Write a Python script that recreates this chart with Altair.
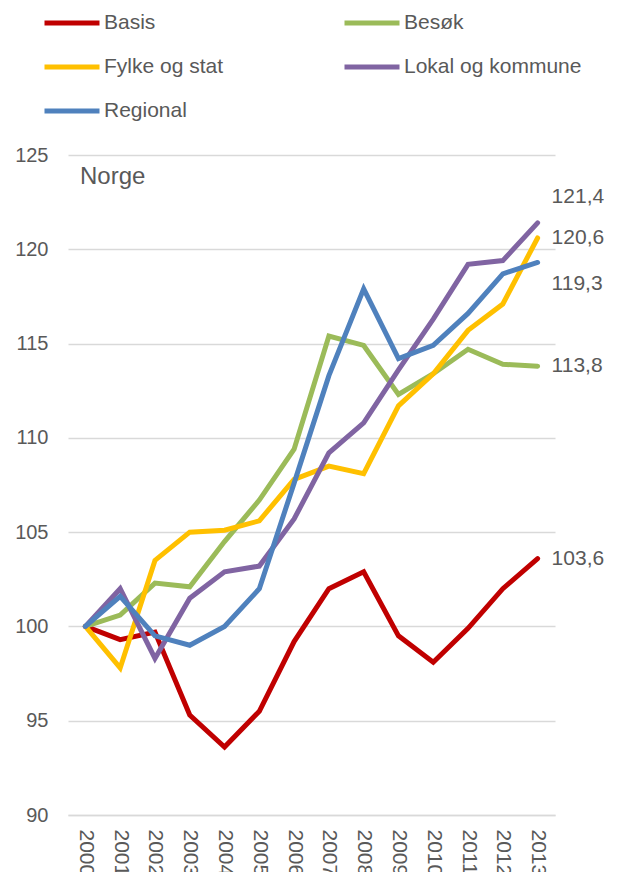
import altair as alt
import pandas as pd

years = [str(y) for y in range(2000, 2014)]
series_names = ["Basis", "Besøk", "Fylke og stat", "Lokal og kommune", "Regional"]
basis = [100.0, 99.3, 99.7, 95.3, 93.6, 95.5, 99.2, 102.0, 102.9, 99.5, 98.1, 99.9, 102.0, 103.6]
besok = [100.0, 100.6, 102.3, 102.1, 104.5, 106.7, 109.4, 115.4, 114.9, 112.3, 113.4, 114.7, 113.9, 113.8]
fylke = [100.0, 97.8, 103.5, 105.0, 105.1, 105.6, 107.8, 108.5, 108.1, 111.7, 113.4, 115.7, 117.1, 120.6]
lokal = [100.0, 102.0, 98.3, 101.5, 102.9, 103.2, 105.7, 109.2, 110.8, 113.6, 116.3, 119.2, 119.4, 121.4]
regional = [100.0, 101.6, 99.5, 99.0, 100.0, 102.0, 107.6, 113.3, 117.9, 114.2, 114.9, 116.6, 118.7, 119.3]
colors = ["#C00000", "#9BBB59", "#FFC000", "#8064A2", "#4F81BD"]

values = [basis, besok, fylke, lokal, regional]
rows = []
for name, vals in zip(series_names, values):
    for yr, v in zip(years, vals):
        rows.append({"Serie": name, "År": yr, "Verdi": v})
df = pd.DataFrame(rows)

last = pd.DataFrame({
    "Serie": series_names,
    "År": [years[-1]] * len(series_names),
    "Verdi": [v[-1] for v in values],
})
last["Tekst"] = last["Verdi"].map(lambda v: f"{v:.1f}".replace(".", ","))

FONT = "Liberation Sans"
TXT = "#595959"

x = alt.X("År:O", title=None,
          scale=alt.Scale(paddingOuter=0.5),
          axis=alt.Axis(labelAngle=90, labelFontSize=21, labelColor=TXT, labelFont=FONT,
                        ticks=False, domainColor="#d9d9d9", domainWidth=1.5,
                        labelPadding=14, grid=False))
y = alt.Y("Verdi:Q", title=None,
          scale=alt.Scale(domain=[90, 125], nice=False, zero=False),
          axis=alt.Axis(values=[90, 95, 100, 105, 110, 115, 120, 125], labelFontSize=20,
                        labelColor=TXT, labelFont=FONT, ticks=False, domain=False,
                        gridColor="#d9d9d9", gridWidth=1.5, labelPadding=20))

lines = alt.Chart(df).mark_line(strokeWidth=5, strokeCap="round").encode(
    x=x, y=y,
    color=alt.Color("Serie:N",
                    scale=alt.Scale(domain=series_names, range=colors),
                    sort=series_names,
                    legend=alt.Legend(title=None, orient="none", legendX=-26, legendY=-162,
                                      direction="horizontal",
                                      columns=2, symbolType="stroke", symbolSize=3025,
                                      symbolStrokeWidth=5, labelFontSize=21, labelFont=FONT,
                                      labelColor=TXT, labelOffset=2, columnPadding=110,
                                      labelLimit=400,
                                      rowPadding=4, padding=0)),
    order=alt.Order("Serie:N"),
)

def end_labels(names, dy):
    return alt.Chart(last).transform_filter(
        alt.FieldOneOfPredicate(field="Serie", oneOf=names)
    ).mark_text(align="left", baseline="middle", dx=14, dy=dy, fontSize=21,
                font=FONT, color=TXT).encode(
        x=alt.X("År:O"), y=alt.Y("Verdi:Q"), text="Tekst:N")

lab_mid = end_labels(["Basis", "Besøk", "Fylke og stat"], 0)
lab_up = end_labels(["Lokal og kommune"], -26)
lab_down = end_labels(["Regional"], 22)

norge = alt.Chart(pd.DataFrame({"t": ["Norge"]})).mark_text(
    align="left", baseline="middle", fontSize=24, font=FONT, color=TXT
).encode(x=alt.value(12), y=alt.value(22), text="t:N")

chart = alt.layer(lines, lab_mid, lab_up, lab_down, norge).properties(
    width=487, height=660,
    autosize=alt.AutoSizeParams(type="none"),
    padding={"left": 60, "top": 147, "right": 54, "bottom": 57},
).configure_view(stroke=None)

chart.save("out.html", embed_options={"renderer": "svg", "actions": False})
